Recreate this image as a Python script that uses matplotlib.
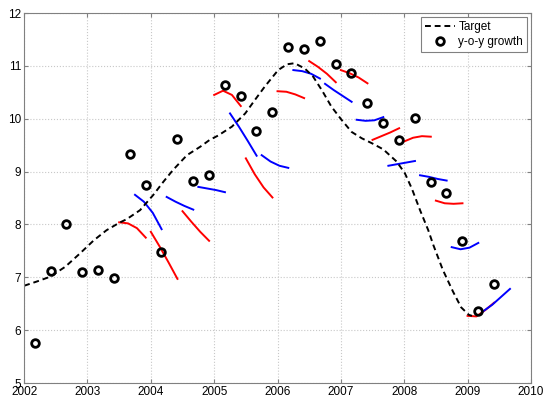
import numpy as np
import matplotlib
matplotlib.use("Agg")
import matplotlib.pyplot as plt

plt.rcParams['font.family'] = ['Liberation Sans', 'DejaVu Sans']

#
#   DONNEES
#
# courbe cible (trait pointille)
target_x = [2002.00, 2002.20, 2002.41, 2002.65, 2002.88, 2003.10, 2003.30, 2003.50,
            2003.62, 2003.83, 2004.04, 2004.20, 2004.35, 2004.57, 2004.78, 2004.93,
            2005.06, 2005.28, 2005.49, 2005.64, 2005.80, 2006.01, 2006.15, 2006.27,
            2006.43, 2006.56, 2006.70, 2006.85, 2007.01, 2007.17, 2007.33, 2007.50,
            2007.67, 2007.88, 2008.01, 2008.12, 2008.25, 2008.38, 2008.46, 2008.61,
            2008.77, 2008.90, 2009.02, 2009.07]
target_y = [6.84, 6.92, 7.01, 7.20, 7.45, 7.70, 7.89, 8.03,
            8.10, 8.27, 8.56, 8.81, 9.03, 9.31, 9.47, 9.60,
            9.68, 9.85, 10.10, 10.35, 10.61, 10.92, 11.03, 11.05,
            10.95, 10.80, 10.54, 10.23, 9.98, 9.75, 9.63, 9.53,
            9.42, 9.19, 8.97, 8.68, 8.27, 7.89, 7.61, 7.14,
            6.73, 6.43, 6.29, 6.27]

# croissance glissement annuel, trimestrielle
growth_x = 2002.167 + 0.25 * np.arange(30)
growth_y = [5.76, 7.12, 8.01, 7.10, 7.13, 6.98, 9.34, 8.74, 7.47, 9.61,
            8.83, 8.93, 10.64, 10.43, 9.77, 10.12, 11.36, 11.32, 11.47, 11.03,
            10.86, 10.29, 9.92, 9.60, 10.02, 8.81, 8.59, 7.68, 6.37, 6.88]

# trajectoires de prevision : debut, valeurs a +0, +0.14, +0.28, +0.42 an
path_start = [2003.50, 2003.75, 2004.00, 2004.25, 2004.50, 2004.75,
              2005.00, 2005.25, 2005.50, 2005.75, 2006.00, 2006.25,
              2006.50, 2006.75, 2007.00, 2007.25, 2007.50, 2007.75,
              2008.00, 2008.25, 2008.50, 2008.75, 2009.00, 2009.25]
path_values = [
    [8.04, 8.02, 7.93, 7.75],
    [8.56, 8.43, 8.22, 7.91],
    [7.86, 7.58, 7.28, 6.97],
    [8.52, 8.43, 8.35, 8.28],
    [8.25, 8.05, 7.86, 7.69],
    [8.71, 8.68, 8.65, 8.61],
    [10.45, 10.53, 10.45, 10.24],
    [10.10, 9.85, 9.58, 9.30],
    [9.25, 8.95, 8.70, 8.51],
    [9.31, 9.19, 9.11, 9.07],
    [10.52, 10.51, 10.46, 10.39],
    [10.92, 10.90, 10.85, 10.76],
    [11.09, 10.98, 10.85, 10.69],
    [10.66, 10.54, 10.43, 10.32],
    [10.92, 10.86, 10.78, 10.67],
    [9.98, 9.96, 9.97, 10.03],
    [9.60, 9.67, 9.74, 9.82],
    [9.11, 9.14, 9.17, 9.20],
    [9.57, 9.64, 9.67, 9.66],
    [8.93, 8.90, 8.86, 8.83],
    [8.45, 8.40, 8.39, 8.40],
    [7.57, 7.53, 7.56, 7.65],
    [6.27, 6.26, 6.38, 6.52],
    [6.36, 6.48, 6.63, 6.78],
]
path_offsets = [0.0, 0.14, 0.28, 0.42]

#
#   TRACE
#
fig = plt.figure(figsize=(5.49, 4.0), dpi=100)
ax = fig.add_axes([0.044, 0.0425, 0.923, 0.925])

for i in range(len(path_start)):
    xs = [path_start[i] + d for d in path_offsets]
    couleur = 'r' if i % 2 == 0 else 'b'
    ax.plot(xs, path_values[i], color=couleur, linewidth=1.4)

ax.plot(target_x, target_y, color='k', linestyle=(0, (3, 2)), linewidth=1.4,
        label='Target')
ax.plot(growth_x, growth_y, linestyle='none', marker='o', markersize=5.5,
        markerfacecolor='none', markeredgecolor='k', markeredgewidth=2,
        label='y-o-y growth')

ax.set_xlim(2002, 2010)
ax.set_ylim(5, 12)
ax.set_xticks(range(2002, 2011))
ax.set_yticks(range(5, 13))
ax.grid(True, color='#c8c8c8', linestyle=':', linewidth=0.8)
ax.tick_params(direction='in', length=3, labelsize=8.5, colors='#808080',
               labelcolor='k', top=True, right=True, pad=2)
for s in ax.spines.values():
    s.set_color('#808080')

leg = ax.legend(loc='upper right', fontsize=8.5, fancybox=False,
                edgecolor='#808080', framealpha=1, borderaxespad=0.3,
                handlelength=2.5, handletextpad=0.3, borderpad=0.35,
                labelspacing=0.3)
leg.get_frame().set_linewidth(0.8)

fig.savefig('out.png', dpi=100)
